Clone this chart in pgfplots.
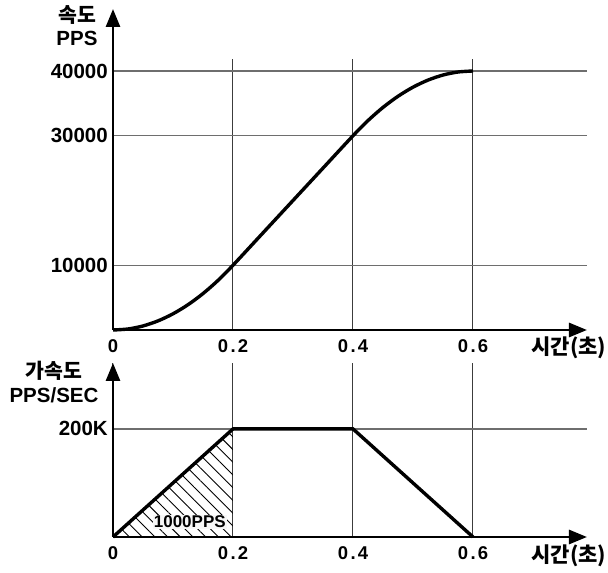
\documentclass[border=0pt]{standalone}
\usepackage{fontspec}
\setmainfont{Liberation Sans}
\newfontfamily\kr{Noto Sans CJK KR}
\usepackage{pgfplots}
\pgfplotsset{compat=1.18}
\usetikzlibrary{arrows.meta,patterns.meta}
\definecolor{hgrid}{RGB}{110,110,110}
\definecolor{vgrid}{RGB}{60,60,60}
\begin{document}
\begin{tikzpicture}[x=1pt,y=1pt]
\path[use as bounding box] (0,0) rectangle (608,573);
\pgfplotsset{
  myax/.style={
    anchor=south west, scale only axis, width=474pt,
    xmin=0, xmax=0.79, ymin=0,
    axis lines=left,
    scaled y ticks=false,
    x axis line style={line width=2.8pt,-{Triangle[length=18pt,width=14pt]}},
    xtick={0,0.2,0.4,0.6},
    xticklabels={0,0\kern2.5pt.\kern2pt2,0\kern2.5pt.\kern2pt4,0\kern2.5pt.\kern2pt6},
    grid=major,
    x grid style={vgrid,line width=1pt},
    y grid style={hgrid,line width=1.3pt},
    major tick length=0pt,
    xticklabel style={font=\bfseries\fontsize{18.5}{18.5}\selectfont, anchor=north, inner sep=0pt, yshift=-9pt},
    yticklabel style={font=\bfseries\fontsize{20.5}{20.5}\selectfont, anchor=east, inner sep=0pt, xshift=-5pt},
    clip=false,
  }
}
\begin{axis}[myax, at={(113pt,243pt)}, height=271pt, ymax=41853,
  y axis line style={line width=2.8pt,-{Triangle[length=18pt,width=14pt]},shorten >=-50pt},
  ytick={10000,30000,40000}, yticklabels={10000,30000,40000}]
\addplot[line width=3.4pt, black, smooth] coordinates {
(0,0) (0.025,156) (0.05,625) (0.075,1406) (0.1,2500) (0.125,3906) (0.15,5625) (0.175,7656)
(0.2,10000) (0.25,15000) (0.3,20000) (0.35,25000) (0.4,30000)
(0.425,32344) (0.45,34375) (0.475,36094) (0.5,37500) (0.525,38594) (0.55,39375) (0.575,39844) (0.6,40000)};
\end{axis}
\begin{axis}[myax, at={(113pt,36pt)}, height=174pt, ymax=322,
  y axis line style={line width=2.8pt,-{Triangle[length=18pt,width=14pt]}},
  ytick={200}, yticklabels={200K}]
\addplot[draw=none, pattern={Lines[angle=-45,distance=9pt,line width=0.9pt]}] coordinates {(0,0) (0.2,200)} \closedcycle;
\addplot[line width=3.4pt, black] coordinates {(0,0) (0.2,200) (0.4,200) (0.6,0)};
\node[fill=gray!6, inner sep=1pt, font=\bfseries\fontsize{17}{17}\selectfont] at (axis cs:0.128,27.8) {1000PPS};
\end{axis}
\node[align=center, font=\bfseries\fontsize{20.5}{23}\selectfont] at (77,547) {{\kr\bfseries 속도}\\PPS};
\node[align=center, font=\bfseries\fontsize{20.5}{24}\selectfont] at (54,191) {{\kr\bfseries 가속도}\\PPS/SEC};
\node[font=\kr\bfseries\fontsize{21}{21}\selectfont] at (569,225) {시간(초)};
\node[font=\kr\bfseries\fontsize{21}{21}\selectfont] at (569,17) {시간(초)};
\end{tikzpicture}
\end{document}
